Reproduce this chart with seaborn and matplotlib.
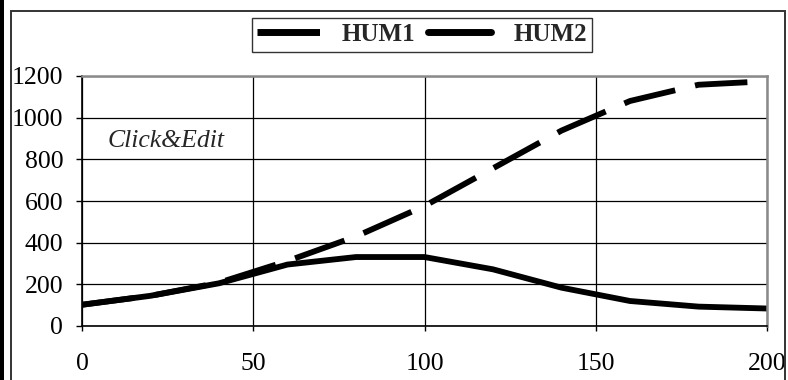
import numpy as np
import pandas as pd
import matplotlib
matplotlib.use('Agg')
import matplotlib.pyplot as plt
import seaborn as sns
from matplotlib.patches import Rectangle

# values
x_vals = [0, 20, 40, 60, 80, 100, 120, 140, 160, 180, 200]
hum1 = [102, 145, 208, 312, 430, 576, 757, 938, 1080, 1158, 1175]
hum2 = [102, 145, 205, 295, 331, 331, 272, 184, 120, 93, 84]
series_names = ['HUM1', 'HUM2']
x_ticks = [0, 50, 100, 150, 200]
y_ticks = [0, 200, 400, 600, 800, 1000, 1200]

df = pd.DataFrame({
    'x': x_vals * 2,
    'y': hum1 + hum2,
    'series': [series_names[0]] * len(x_vals) + [series_names[1]] * len(x_vals),
})

sns.set_style('white')
plt.rcParams['font.family'] = ['Liberation Serif', 'DejaVu Serif']

fig = plt.figure(figsize=(7.88, 3.8), dpi=100)
ax = fig.add_axes([82 / 788, 1 - 326 / 380, (767 - 82) / 788, (326 - 76) / 380])

sns.lineplot(data=df, x='x', y='y', style='series', hue='series',
             palette={'HUM1': 'black', 'HUM2': 'black'},
             dashes={'HUM1': (9, 3.5), 'HUM2': ''},
             linewidth=4.2, ax=ax, legend=True)
for ln in ax.get_lines():
    ln.set_dash_capstyle('butt')
    ln.set_solid_capstyle('round')
    ln.set_solid_joinstyle('round')

ax.set_xlim(0, 200)
ax.set_ylim(0, 1200)
ax.set_xticks(x_ticks)
ax.set_yticks(y_ticks)
ax.set_xlabel('')
ax.set_ylabel('')
ax.grid(True, color='black', linewidth=0.9)
ax.set_axisbelow(True)
for side in ['left', 'bottom']:
    ax.spines[side].set_color('black')
    ax.spines[side].set_linewidth(1.2)
for side in ['top', 'right']:
    ax.spines[side].set_color('#8a8a8a')
    ax.spines[side].set_linewidth(1.8)
ax.tick_params(axis='x', direction='out', length=3.5, width=1, pad=16, labelsize=18.5, colors='black', bottom=True)
ax.tick_params(axis='y', direction='out', length=4.5, width=1, pad=9, labelsize=18.5, colors='black', left=True)

ax.text(7.6, 860, 'Click&Edit', style='italic', fontsize=18.5, va='baseline', ha='left')

handles, labels = ax.get_legend_handles_labels()
ax.get_legend().remove()
leg = fig.legend(handles, labels, loc='center', bbox_to_anchor=(422 / 788, 1 - 34.5 / 380),
                 ncol=2, frameon=True, fancybox=False, edgecolor='black',
                 prop={'family': 'Liberation Serif', 'weight': 'bold', 'size': 18},
                 handlelength=2.5, handletextpad=0.9, columnspacing=0.5,
                 borderpad=0.22, borderaxespad=0)
leg.get_frame().set_linewidth(1.0)
for h in leg.get_lines():
    h.set_linewidth(5)
    h.set_color('black')

# outer chart border and dark left edge
fig.patches.append(Rectangle((11 / 788, -0.05), (785 - 11) / 788, 1.05 - 11 / 380,
                             transform=fig.transFigure, fill=False, ec='#333333', lw=1.4))
fig.patches.append(Rectangle((0, 0), 3.5 / 788, 1, transform=fig.transFigure,
                             fc='black', ec='none'))

fig.savefig('out.png', dpi=100)
